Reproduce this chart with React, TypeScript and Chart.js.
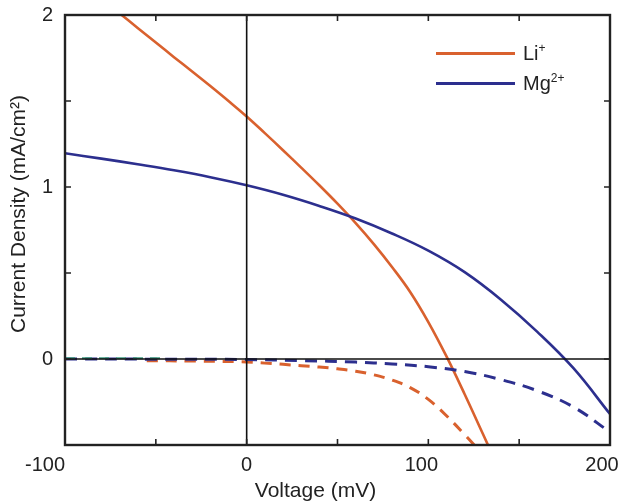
import { useEffect, useRef } from 'react';
import { Chart, registerables } from 'chart.js';

Chart.register(...registerables);

// Li+ solid (light)
const liSolidV = [-70, -60, -50, -40, -30, -20, -10, 0, 10, 20, 30, 40, 50, 60, 70, 80, 90, 100, 110, 120, 130, 140];
const liSolidJ = [2.01, 1.925, 1.84, 1.755, 1.672, 1.587, 1.5, 1.41, 1.313, 1.214, 1.113, 1.01, 0.903, 0.79, 0.668, 0.535, 0.39, 0.215, 0.015, -0.205, -0.435, -0.665];
// Mg2+ solid (light)
const mgSolidV = [-100, -80, -60, -40, -20, 0, 20, 40, 60, 80, 100, 120, 140, 160, 180, 200];
const mgSolidJ = [1.196, 1.165, 1.132, 1.097, 1.057, 1.01, 0.955, 0.89, 0.817, 0.73, 0.63, 0.505, 0.345, 0.158, -0.055, -0.32];
// Li+ dashed (dark)
const liDarkV = [-55, -30, 0, 10, 20, 30, 40, 50, 60, 70, 80, 90, 100, 110, 120, 130];
const liDarkJ = [-0.01, -0.012, -0.017, -0.024, -0.031, -0.039, -0.047, -0.057, -0.071, -0.092, -0.122, -0.166, -0.235, -0.33, -0.44, -0.555];
// Mg2+ dashed (dark)
const mgDarkV = [-100, -50, 0, 30, 60, 80, 100, 120, 140, 160, 180, 200];
const mgDarkJ = [0.0, -0.001, -0.003, -0.009, -0.018, -0.029, -0.045, -0.073, -0.12, -0.185, -0.28, -0.425];
// faint green dashed trace near zero
const greenV = [-100, -45];
const greenJ = [0.004, 0.004];

const xTickValues = [-100, -50, 0, 50, 100, 150, 200];
const xLabelValues = [-100, 0, 100, 200];
const yTickValues = [-0.5, 0, 0.5, 1, 1.5, 2];
const xTitle = 'Voltage (mV)';
const yTitle = 'Current Density (mA/cm\u00B2)';
const legendLabels = ['Li', 'Mg'];
const legendSups = ['+', '2+'];

const ORANGE = '#D9612E';
const BLUE = '#2C2F8E';
const INK = '#222';
const FONT = '"Liberation Sans", Arial, sans-serif';
// horizontal nudges of the x tick labels (as placed in the original figure)
const xLabelNudge: Record<string, number> = { '-100': -20, '0': 0, '100': -7, '200': -8 };

const pts = (v: number[], j: number[]) => v.map((x, i) => ({ x, y: j[i] }));

const framePlugin = {
  id: 'frame',
  afterDatasetsDraw(chart: any) {
    const { ctx, chartArea: a, scales } = chart;
    const x = scales.x;
    const y = scales.y;
    ctx.save();
    const y0 = y.getPixelForValue(0);
    const x0 = x.getPixelForValue(0);
    ctx.strokeStyle = '#111';
    ctx.lineWidth = 1.6;
    ctx.beginPath();
    ctx.moveTo(a.left, y0);
    ctx.lineTo(a.right, y0);
    ctx.moveTo(x0, a.top);
    ctx.lineTo(x0, a.bottom);
    ctx.stroke();

    ctx.strokeStyle = INK;
    ctx.lineWidth = 1.6;
    ctx.beginPath();
    for (const v of xTickValues) {
      const px = x.getPixelForValue(v);
      ctx.moveTo(px, a.bottom);
      ctx.lineTo(px, a.bottom - 6);
      ctx.moveTo(px, a.top);
      ctx.lineTo(px, a.top + 6);
    }
    for (const v of yTickValues) {
      const py = y.getPixelForValue(v);
      ctx.moveTo(a.left, py);
      ctx.lineTo(a.left + 6, py);
      ctx.moveTo(a.right, py);
      ctx.lineTo(a.right - 6, py);
    }
    ctx.stroke();

    ctx.lineWidth = 2.4;
    ctx.strokeRect(a.left, a.top, a.right - a.left, a.bottom - a.top);

    // x tick labels
    ctx.fillStyle = INK;
    ctx.font = '20px ' + FONT;
    ctx.textAlign = 'center';
    ctx.textBaseline = 'alphabetic';
    for (const v of xLabelValues) {
      const px = x.getPixelForValue(v) + (xLabelNudge[String(v)] || 0);
      ctx.fillText(String(v), px, a.bottom + 26);
    }

    // axis titles
    ctx.font = '21px ' + FONT;
    ctx.fillText(xTitle, (a.left + a.right) / 2 - 22, a.bottom + 52);

    ctx.translate(25, (a.top + a.bottom) / 2 - 16);
    ctx.rotate(-Math.PI / 2);
    ctx.textAlign = 'center';
    ctx.fillText(yTitle, 0, 0);
    ctx.restore();
  },
};

export default function App() {
  const ref = useRef<HTMLCanvasElement>(null);
  useEffect(() => {
    if (!ref.current) return;
    const chart = new Chart(ref.current, {
      type: 'line',
      data: {
        datasets: [
          { label: 'green', data: pts(greenV, greenJ), borderColor: '#3E9C80', borderWidth: 2, borderDash: [10, 7], pointRadius: 0, tension: 0 },
          { label: 'Mg dark', data: pts(mgDarkV, mgDarkJ), borderColor: BLUE, borderWidth: 3, borderDash: [12, 8], pointRadius: 0, tension: 0.4 },
          { label: 'Li dark', data: pts(liDarkV, liDarkJ), borderColor: ORANGE, borderWidth: 3, borderDash: [11, 8], pointRadius: 0, tension: 0.4 },
          { label: 'Mg', data: pts(mgSolidV, mgSolidJ), borderColor: BLUE, borderWidth: 2.6, pointRadius: 0, tension: 0.4 },
          { label: 'Li', data: pts(liSolidV, liSolidJ), borderColor: ORANGE, borderWidth: 2.6, pointRadius: 0, tension: 0.4 },
        ],
      },
      options: {
        responsive: false,
        animation: false,
        layout: { padding: { left: 0, right: 9, top: 15, bottom: 0 } },
        plugins: { legend: { display: false }, tooltip: { enabled: false } },
        scales: {
          x: {
            type: 'linear',
            min: -100,
            max: 200,
            grid: { display: false, drawTicks: false },
            border: { display: false },
            ticks: { display: false, stepSize: 50 },
            afterFit: (s: any) => { s.height = 57; s.paddingLeft = 0; s.paddingRight = 0; },
          },
          y: {
            type: 'linear',
            min: -0.5,
            max: 2,
            grid: { display: false, drawTicks: false },
            border: { display: false },
            ticks: {
              stepSize: 0.5,
              autoSkip: false,
              padding: 12,
              color: INK,
              font: { family: FONT, size: 20 },
              callback: (v: any) => (Number.isInteger(Number(v)) ? String(v) : ''),
            },
            afterFit: (s: any) => { s.width = 65; s.paddingTop = 0; s.paddingBottom = 0; },
          },
        },
      },
      plugins: [framePlugin],
    } as any);
    return () => chart.destroy();
  }, []);

  return (
    <div style={{ position: 'fixed', left: 0, top: 0, width: 619, height: 502, background: '#fff' }}>
      <canvas ref={ref} width={619} height={502} />
      {legendLabels.map((lab, i) => (
        <div key={lab} style={{ position: 'absolute', left: 436, top: 53 + i * 30 - 12, height: 24, display: 'flex', alignItems: 'center', fontFamily: FONT, fontSize: 20, color: INK }}>
          <div style={{ width: 79, height: 3, background: i === 0 ? ORANGE : BLUE, marginRight: 8 }} />
          <span>
            {lab}
            <sup style={{ fontSize: 12, verticalAlign: 'top', position: 'relative', top: -1 }}>{legendSups[i]}</sup>
          </span>
        </div>
      ))}
    </div>
  );
}
